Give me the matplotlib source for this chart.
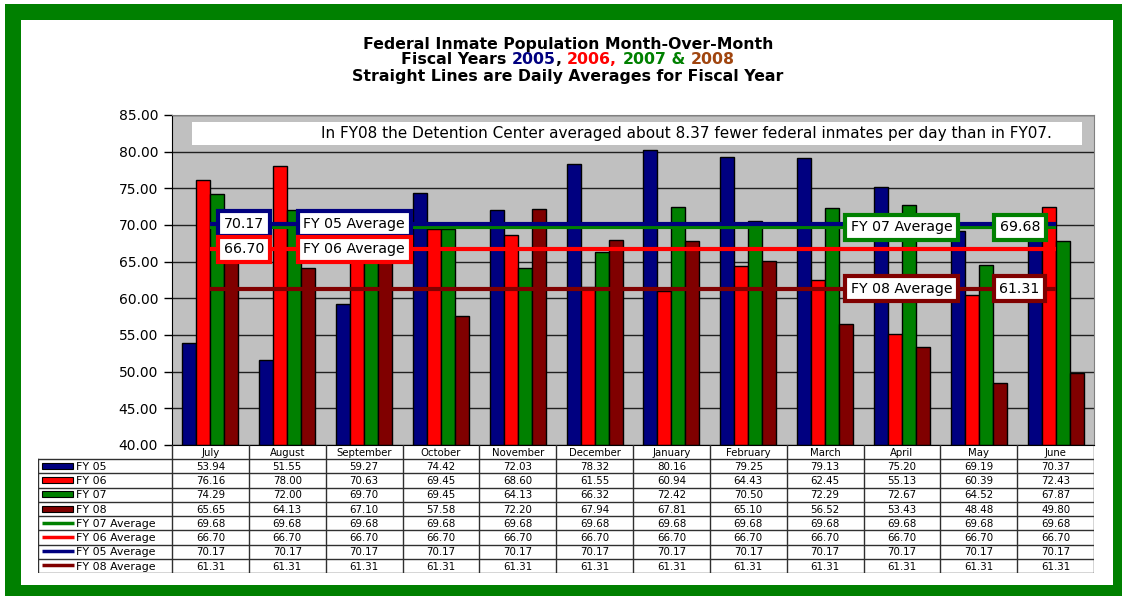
import matplotlib
matplotlib.use("Agg")
import matplotlib.pyplot as plt
import numpy as np
from matplotlib.patches import Rectangle

months = ['July', 'August', 'September', 'October', 'November', 'December',
          'January', 'February', 'March', 'April', 'May', 'June']
fy05 = [53.94, 51.55, 59.27, 74.42, 72.03, 78.32, 80.16, 79.25, 79.13, 75.20, 69.19, 70.37]
fy06 = [76.16, 78.00, 70.63, 69.45, 68.60, 61.55, 60.94, 64.43, 62.45, 55.13, 60.39, 72.43]
fy07 = [74.29, 72.00, 69.70, 69.45, 64.13, 66.32, 72.42, 70.50, 72.29, 72.67, 64.52, 67.87]
fy08 = [65.65, 64.13, 67.10, 57.58, 72.20, 67.94, 67.81, 65.10, 56.52, 53.43, 48.48, 49.80]
avg07 = 69.68
avg06 = 66.70
avg05 = 70.17
avg08 = 61.31
note = "In FY08 the Detention Center averaged about 8.37 fewer federal inmates per day than in FY07."

NAVY = '#000080'
RED = '#FF0000'
GREEN = '#008000'
MAROON = '#800000'
BROWN = '#A0450F'

W, H = 1122, 596
plt.rcParams['font.family'] = ['DejaVu Sans']
fig = plt.figure(figsize=(W / 100, H / 100), dpi=100)

# green frame
def px_rect(x0, y0, x1, y1, **kw):
    fig.patches.append(Rectangle((x0 / W, 1 - y1 / H), (x1 - x0) / W, (y1 - y0) / H,
                                 transform=fig.transFigure, **kw))

px_rect(5, 4, W, 20, color=GREEN, lw=0)
px_rect(5, 4, 21, H, color=GREEN, lw=0)
px_rect(1113, 4, W, H, color=GREEN, lw=0)
px_rect(5, 585, W, H, color=GREEN, lw=0)

# titles
tfs = 11.3
tkw = dict(fontsize=tfs, fontweight='bold', va='center', ha='center')
fig.text(568 / W, 1 - 45 / H, "Federal Inmate Population Month-Over-Month", **tkw)
fig.text(568 / W, 1 - 76 / H, "Straight Lines are Daily Averages for Fiscal Year", **tkw)
pieces = [("Fiscal Years ", 'black'), ("2005", NAVY), (", ", 'black'), ("2006,", RED),
          (" ", 'black'), ("2007", GREEN), (" & ", GREEN), ("2008", BROWN)]
parts = [fig.text(0, 1 - 60 / H, s, color=c, fontsize=tfs, fontweight='bold',
                  va='center', ha='left') for s, c in pieces]
fig.canvas.draw()
rend = fig.canvas.get_renderer()
widths = [p.get_window_extent(rend).width for p in parts]
x = 568 - sum(widths) / 2
for p, w in zip(parts, widths):
    p.set_x(x / W)
    x += w

# main chart
L, R, T, B = 172, 1094, 115, 445
ax = fig.add_axes([L / W, 1 - B / H, (R - L) / W, (B - T) / H])
ax.set_facecolor('#C0C0C0')
ax.set_xlim(-0.5, 11.5)
ax.set_ylim(40, 85)
ax.set_yticks(np.arange(40, 86, 5))
ax.set_yticklabels([f"{v:.2f}" for v in np.arange(40, 86, 5)], fontsize=10)
ax.set_xticks([])
ax.tick_params(axis='y', length=6, width=1, pad=4)
ax.yaxis.grid(True, color='#202020', lw=1)
ax.set_axisbelow(True)
for s in ['top', 'right']:
    ax.spines[s].set_color('#808080')
ax.spines['left'].set_color('black')
ax.spines['bottom'].set_color('black')

xs = np.arange(len(months))
bw = 14 / ((R - L) / 12)
for k, (vals, col) in enumerate([(fy05, NAVY), (fy06, RED), (fy07, GREEN), (fy08, MAROON)]):
    ax.bar(xs + (k - 1.5) * bw, np.array(vals) - 40, bottom=40, width=bw, color=col,
           edgecolor='black', lw=1, zorder=2)

for v, col in [(avg07, GREEN), (avg06, RED), (avg05, NAVY), (avg08, MAROON)]:
    ax.plot(xs, [v] * len(xs), color=col, lw=3, zorder=3, solid_capstyle='butt')

# note box
ax.add_patch(Rectangle((-0.24, 80.9), 11.58, 3.15, facecolor='white', edgecolor='none', zorder=4))
ax.text(6.2, 82.5, note, ha='center', va='center', fontsize=11, zorder=5)

def tag(xc, y, s, col):
    ax.text(xc, y, s, ha='center', va='center', fontsize=10.2, zorder=6,
            bbox=dict(boxstyle='square,pad=0.4', facecolor='white', edgecolor=col, lw=3))

tag(0.44, avg05, f"{avg05:.2f}", NAVY)
tag(1.87, avg05, "FY 05 Average", NAVY)
tag(0.44, avg06, f"{avg06:.2f}", RED)
tag(1.87, avg06, "FY 06 Average", RED)
tag(9.0, avg07, "FY 07 Average", GREEN)
tag(10.54, avg07, f"{avg07:.2f}", GREEN)
tag(9.0, avg08, "FY 08 Average", MAROON)
tag(10.53, avg08, f"{avg08:.2f}", MAROON)

# data table
TL, TB = 38, 573
tab = fig.add_axes([TL / W, 1 - TB / H, (R - TL) / W, (TB - B) / H])
unit = (R - L) / 12
left = -0.5 - (L - TL) / unit
tab.set_xlim(left, 11.5)
tab.set_ylim(9, 0)
tab.axis('off')

rows = [("FY 05", fy05, NAVY, 'bar'), ("FY 06", fy06, RED, 'bar'),
        ("FY 07", fy07, GREEN, 'bar'), ("FY 08", fy08, MAROON, 'bar'),
        ("FY 07 Average", [avg07] * 12, GREEN, 'line'),
        ("FY 06 Average", [avg06] * 12, RED, 'line'),
        ("FY 05 Average", [avg05] * 12, NAVY, 'line'),
        ("FY 08 Average", [avg08] * 12, MAROON, 'line')]

lc = '#303030'
for k in range(13):
    tab.plot([k - 0.5, k - 0.5], [0, 9], color=lc, lw=1)
tab.plot([left, left], [1, 9], color=lc, lw=1)
for r in range(1, 10):
    tab.plot([left, 11.5], [r, r], color=lc, lw=1)

for i, m in enumerate(months):
    tab.text(i, 0.55, m, ha='center', va='center', fontsize=7.3)

for r, (name, vals, col, kind) in enumerate(rows, start=1):
    yc = r + 0.5
    if kind == 'bar':
        tab.add_patch(Rectangle((left + 0.05, yc - 0.24), 0.4, 0.42, facecolor=col,
                                edgecolor='black', lw=0.8))
    else:
        tab.plot([left + 0.05, left + 0.47], [yc - 0.05, yc - 0.05], color=col, lw=2.5,
                 solid_capstyle='butt')
    tab.text(left + 0.49, yc + 0.05, name, ha='left', va='center', fontsize=7.9)
    for i, v in enumerate(vals):
        tab.text(i, yc + 0.05, f"{v:.2f}", ha='center', va='center', fontsize=7.4)

fig.savefig("out.png", dpi=100)
